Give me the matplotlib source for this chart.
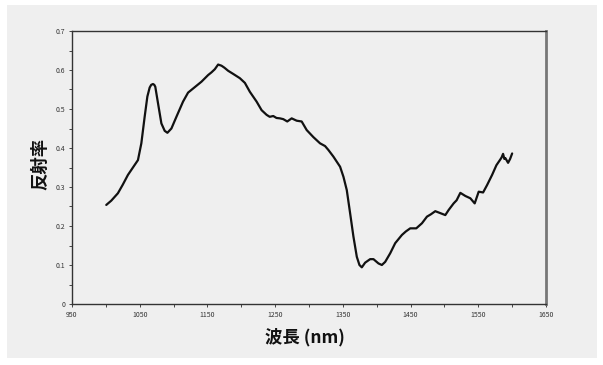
import matplotlib
matplotlib.use("Agg")
import matplotlib.pyplot as plt
from matplotlib.patches import Rectangle
from matplotlib.ticker import MultipleLocator

plt.rcParams['font.family'] = ['Noto Sans CJK JP', 'DejaVu Sans']

# Reflectance spectrum
wavelength = [1000.6, 1008, 1017.8, 1025, 1032.6, 1040, 1047.4, 1052.4, 1057.3, 1061.3,
              1064.7, 1067, 1069.6, 1071.5, 1073, 1077, 1082, 1086.9, 1090.9, 1096.8,
              1104.2, 1114, 1121.4, 1131.3, 1141.2, 1151, 1156, 1160.9, 1165.8, 1170.8,
              1175, 1180.6, 1188, 1197.9, 1205.3, 1212.7, 1222.6, 1230, 1237.4, 1242,
              1247.2, 1252, 1257.1, 1262, 1267.9, 1274.4, 1281.8, 1289.2, 1296.6, 1306.4,
              1316.3, 1323.7, 1328.6, 1336, 1345.9, 1350.9, 1355.8, 1360.7, 1365.6,
              1370.6, 1374.5, 1378, 1382.9, 1390.3, 1395.2, 1402.6, 1407.6, 1412.5,
              1419.9, 1427.3, 1437.2, 1443, 1449.5, 1458.4, 1466.8, 1474.2, 1480,
              1486.5, 1493.9, 1501.3, 1506.2, 1513.6, 1518, 1523.5, 1530.9, 1538.3,
              1544.7, 1550.6, 1557.1, 1563, 1570.4, 1576.8, 1582.7, 1584.5, 1586.6,
              1588.5, 1590, 1594, 1597, 1600]
reflectance = [0.254, 0.265, 0.284, 0.306, 0.331, 0.350, 0.369, 0.412, 0.480, 0.532,
               0.555, 0.562, 0.564, 0.562, 0.557, 0.515, 0.463, 0.444, 0.439, 0.450,
               0.480, 0.519, 0.542, 0.556, 0.570, 0.587, 0.594, 0.602, 0.614, 0.611,
               0.606, 0.598, 0.590, 0.579, 0.567, 0.544, 0.519, 0.497, 0.485, 0.480,
               0.482, 0.477, 0.476, 0.474, 0.468, 0.476, 0.470, 0.468, 0.446, 0.428,
               0.412, 0.405, 0.395, 0.378, 0.352, 0.326, 0.292, 0.233, 0.173,
               0.121, 0.100, 0.094, 0.106, 0.115, 0.115, 0.104, 0.100, 0.108,
               0.130, 0.156, 0.177, 0.186, 0.194, 0.194, 0.207, 0.224, 0.230,
               0.238, 0.233, 0.228, 0.241, 0.258, 0.266, 0.285, 0.277, 0.271,
               0.258, 0.288, 0.286, 0.305, 0.331, 0.356, 0.371, 0.376, 0.385,
               0.372, 0.374, 0.362, 0.372, 0.386]

x_ticks = [950, 1050, 1150, 1250, 1350, 1450, 1550, 1650]
y_ticks = [0, 0.1, 0.2, 0.3, 0.4, 0.5, 0.6, 0.7]
y_tick_labels = ['0', '0.1', '0.2', '0.3', '0.4', '0.5', '0.6', '0.7']

fig = plt.figure(figsize=(6.03, 3.65), dpi=100)
fig.patch.set_facecolor('white')
fig.patches.append(Rectangle((7 / 603, 1 - 358 / 365), 590 / 603, 353 / 365,
                             transform=fig.transFigure, facecolor='#efefef',
                             edgecolor='none', zorder=-5))

ax = fig.add_axes([72 / 603, 1 - 304 / 365, 474 / 603, 273 / 365])
ax.set_zorder(2)
ax.set_facecolor('#efefef')
ax.plot(wavelength, reflectance, color='#111111', lw=1.6,
        solid_joinstyle='round', solid_capstyle='round')

ax.set_xlim(950, 1650)
ax.set_ylim(0, 0.7)
ax.set_xticks(x_ticks)
ax.set_xticklabels([str(t) for t in x_ticks])
ax.set_yticks(y_ticks)
ax.set_yticklabels(y_tick_labels)
ax.xaxis.set_minor_locator(MultipleLocator(50))
ax.yaxis.set_minor_locator(MultipleLocator(0.05))
ax.tick_params(which='both', direction='out', length=2, width=0.7, colors='#444444',
               labelsize=5, labelcolor='#333333', pad=3)
ax.tick_params(top=False, right=False)

for side in ['left', 'bottom', 'top']:
    ax.spines[side].set_color('#333333')
    ax.spines[side].set_linewidth(1.0)
ax.spines['right'].set_color('#777777')
ax.spines['right'].set_linewidth(2.0)

fig.text(305 / 603, 1 - 337 / 365, '波長 (nm)', ha='center', va='center',
         fontsize=12.5, fontweight='bold', color='#111111', zorder=3)
fig.text(40 / 603, 1 - 164 / 365, '反射率', ha='center', va='center', rotation=90,
         fontsize=12.5, fontweight='bold', color='#111111', zorder=3)

fig.savefig('out.png', dpi=100, facecolor=fig.get_facecolor())
